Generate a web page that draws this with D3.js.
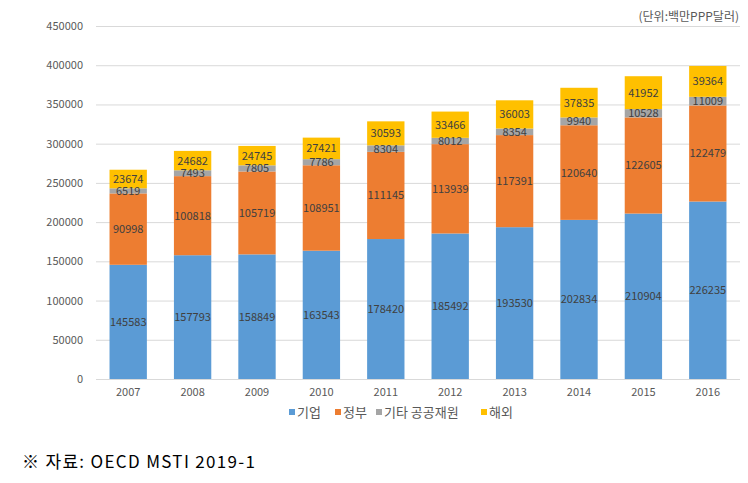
<!DOCTYPE html>
<html><head><meta charset="utf-8">
<script src="https://cdn.jsdelivr.net/npm/d3@7"></script>
<style>body{margin:0;background:#fff;}svg{display:block;}</style>
</head><body>
<svg id="c" width="748" height="483"></svg>
<script>
const years = ["2007","2008","2009","2010","2011","2012","2013","2014","2015","2016"];
const seriesNames = ["기업","정부","기타 공공재원","해외"];
const business = [145583,157793,158849,163543,178420,185492,193530,202834,210904,226235];
const government = [90998,100818,105719,108951,111145,113939,117391,120640,122605,122479];
const otherPublic = [6519,7493,7805,7786,8304,8012,8354,9940,10528,11009];
const abroad = [23674,24682,24745,27421,30593,33466,36003,37835,41952,39364];
const yTicks = [0,50000,100000,150000,200000,250000,300000,350000,400000,450000];
const colors = ["#5B9BD5","#ED7D31","#A5A5A5","#FFC000"];

const svg = d3.select("#c");
const font = "'Noto Sans CJK KR','Malgun Gothic',sans-serif";
const x = d3.scaleBand().domain(years).range([96,740]).paddingInner(0.42).paddingOuter(0.21);
const y = d3.scaleLinear().domain([0,450000]).range([379,26]);

// gridlines
svg.append("g").selectAll("line").data(yTicks).join("line")
  .attr("x1",96).attr("x2",740).attr("y1",d=>y(d)+0.5).attr("y2",d=>y(d)+0.5)
  .attr("stroke","#d9d9d9").attr("stroke-width",1);

// y axis labels
const ya = svg.append("g").attr("transform","translate(83,0)")
  .call(d3.axisLeft(y).tickValues(yTicks).tickSize(0).tickPadding(0).tickFormat(d3.format("d")));
ya.select(".domain").remove();
ya.selectAll("text").attr("font-family",font).attr("font-size",11).attr("fill","#595959");

// x axis labels
const xa = svg.append("g").attr("transform","translate(0,386)")
  .call(d3.axisBottom(x).tickSize(0).tickPadding(2));
xa.select(".domain").remove();
xa.selectAll("text").attr("font-family",font).attr("font-size",11).attr("fill","#595959");

const data = years.map((yr,i)=>({year:yr,v:[business[i],government[i],otherPublic[i],abroad[i]]}));
const stack = d3.stack().keys([0,1,2,3]).value((d,k)=>d.v[k]);
const layers = stack(data);

const g = svg.append("g");
layers.forEach((layer,k)=>{
  g.append("g").selectAll("rect").data(layer).join("rect")
    .attr("x",d=>x(d.data.year)).attr("width",x.bandwidth())
    .attr("y",d=>y(d[1])).attr("height",d=>y(d[0])-y(d[1]))
    .attr("fill",colors[k]);
});
layers.forEach((layer,k)=>{
  g.append("g").selectAll("text").data(layer).join("text")
    .attr("x",d=>x(d.data.year)+x.bandwidth()/2)
    .attr("y",d=>(y(d[0])+y(d[1]))/2)
    .attr("dy","0.36em")
    .attr("text-anchor","middle")
    .attr("font-family",font).attr("font-size",11).attr("fill","#404040")
    .text(d=>d.data.v[k]);
});

// legend
const legend = svg.append("g").attr("transform","translate(0,412)");
const lx = [289,335,376,481];
seriesNames.forEach((n,k)=>{
  legend.append("rect").attr("x",lx[k]).attr("y",-3).attr("width",6).attr("height",6).attr("fill",colors[k]);
  legend.append("text").attr("x",lx[k]+8).attr("y",0).attr("dy","0.36em")
    .attr("font-family",font).attr("font-size",13).attr("fill","#595959").text(n);
});

// unit
svg.append("text").attr("x",739).attr("y",17).attr("dy","0.36em").attr("text-anchor","end")
  .attr("font-family",font).attr("font-size",12).attr("fill","#595959").text("(단위:백만PPP달러)");

// source
svg.append("text").attr("x",22).attr("y",462).attr("dy","0.36em")
  .attr("textLength",233).attr("lengthAdjust","spacing")
  .attr("font-family",font).attr("font-size",17).attr("fill","#000").text("※ 자료: OECD MSTI 2019-1");
</script>
</body></html>
